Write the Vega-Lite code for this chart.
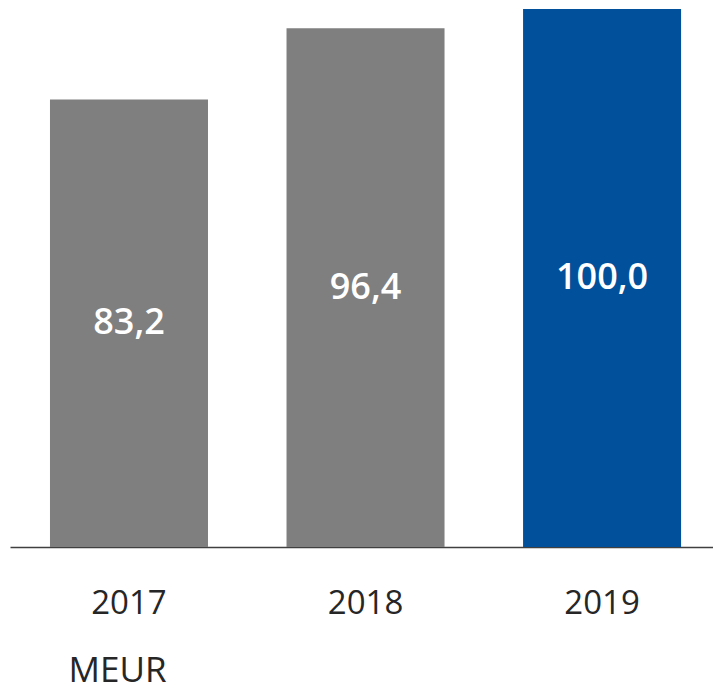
{
  "$schema": "https://vega.github.io/schema/vega-lite/v6.json",
  "width": 703,
  "height": 538,
  "autosize": "none",
  "padding": {"left": 10, "top": 9, "right": 0, "bottom": 146},
  "background": "white",
  "config": {"view": {"stroke": null}, "font": "Open Sans"},
  "data": {
    "values": [
      {"year": "2017", "value": 83.2, "label": "83,2", "highlight": "no"},
      {"year": "2018", "value": 96.4, "label": "96,4", "highlight": "no"},
      {"year": "2019", "value": 100.0, "label": "100,0", "highlight": "yes"}
    ]
  },
  "transform": [{"calculate": "datum.value / 2", "as": "mid"}],
  "encoding": {
    "x": {
      "field": "year",
      "type": "nominal",
      "sort": null,
      "scale": {"paddingInner": 0.332, "paddingOuter": 0.152, "align": 0.556},
      "axis": {
        "title": "MEUR",
        "titleFont": "Open Sans",
        "titleFontSize": 35,
        "titleFontWeight": "normal",
        "titleColor": "#262626",
        "titleAnchor": "start",
        "titleAlign": "left",
        "titleBaseline": "alphabetic",
        "titleX": 58,
        "titleY": 134,
        "labelAngle": 0,
        "labelFont": "Open Sans",
        "labelFontSize": 33,
        "labelColor": "#262626",
        "labelBaseline": "alphabetic",
        "labelPadding": 66,
        "ticks": false,
        "domainColor": "#404040",
        "domainWidth": 1.5,
        "grid": false
      }
    }
  },
  "layer": [
    {
      "mark": {"type": "bar"},
      "encoding": {
        "y": {
          "field": "value",
          "type": "quantitative",
          "scale": {"domain": [0, 100], "nice": false},
          "axis": null
        },
        "color": {
          "field": "highlight",
          "type": "nominal",
          "scale": {"domain": ["no", "yes"], "range": ["#7F7F7F", "#00509B"]},
          "legend": null
        }
      }
    },
    {
      "mark": {"type": "text", "color": "white", "fontSize": 36, "fontWeight": 600, "font": "Open Sans", "baseline": "middle", "align": "center"},
      "encoding": {
        "y": {"field": "mid", "type": "quantitative", "scale": {"domain": [0, 100], "nice": false}, "axis": null},
        "text": {"field": "label", "type": "nominal"}
      }
    }
  ]
}
